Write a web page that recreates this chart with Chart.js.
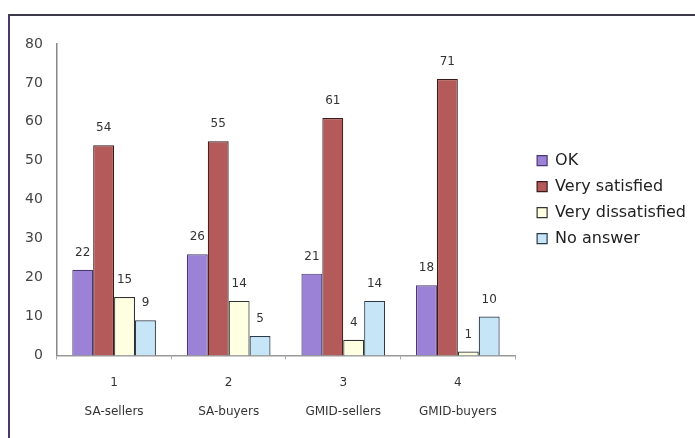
<!DOCTYPE html>
<html>
<head>
<meta charset="utf-8">
<script src="https://cdn.jsdelivr.net/npm/chart.js@4"></script>
<style>
    body { margin: 0; background: #fff; }
    #frame {
        position: absolute; left: 8px; top: 14px; width: 687px; height: 424px;
        border-top: 2px solid #3a3a48; border-left: 2px solid #4a3a6a;
        overflow: hidden;
    }
    #frame canvas { display: block; }
</style>
</head>
<body>
<div id="frame"><canvas id="grafico" width="705" height="422"></canvas></div>
<script>
// dati
var gruppi = ["1", "2", "3", "4"];
var nomiGruppi = ["SA-sellers", "SA-buyers", "GMID-sellers", "GMID-buyers"];
var serie = ["OK", "Very satisfied", "Very dissatisfied", "No answer"];
var valoriOk = [22, 26, 21, 18];
var valoriSoddisfatti = [54, 55, 61, 71];
var valoriInsoddisfatti = [15, 14, 4, 1];
var valoriNessuna = [9, 5, 14, 10];
var tickY = [0, 10, 20, 30, 40, 50, 60, 70, 80];

var colori = ["#9c82d6", "#b45a5a", "#ffffe2", "#c6e6f8"];
var bordi = ["#4a3a70", "#3a1a1a", "#333333", "#2a3a4a"];
var font = "'DejaVu Sans', sans-serif";

var etichette = [];
for (var i = 0; i < gruppi.length; i++) {
    etichette.push([gruppi[i], nomiGruppi[i]]);
}

var valori = [valoriOk, valoriSoddisfatti, valoriInsoddisfatti, valoriNessuna];
var datasets = [];
for (var s = 0; s < serie.length; s++) {
    datasets.push({
        label: serie[s],
        data: valori[s],
        backgroundColor: colori[s],
        borderColor: bordi[s],
        borderWidth: 1.2,
        barPercentage: 1,
        categoryPercentage: 0.73
    });
}

// numeri sopra le barre
var etichetteValori = {
    id: "etichetteValori",
    afterDatasetsDraw: function(chart) {
        var ctx = chart.ctx;
        ctx.save();
        ctx.font = "12px " + font;
        ctx.fillStyle = "#333";
        ctx.textAlign = "center";
        ctx.textBaseline = "bottom";
        chart.data.datasets.forEach(function(ds, i) {
            chart.getDatasetMeta(i).data.forEach(function(bar, j) {
                ctx.fillText(ds.data[j], bar.x, bar.y - 11);
            });
        });
        ctx.restore();
    }
};

// lascia un po' di spazio tra asse x e legenda
var spazioLegenda = {
    id: "spazioLegenda",
    afterLayout: function(chart) {
        var asseX = chart.scales.x;
        asseX.right -= 12;
        asseX.width -= 12;
        asseX.configure();
        chart.chartArea.right -= 12;
        chart.chartArea.width -= 12;
    }
};

var chart = new Chart(document.getElementById("grafico"), {
    type: "bar",
    data: { labels: etichette, datasets: datasets },
    options: {
        responsive: false,
        animation: false,
        layout: { padding: { top: 28, left: 6, right: 19, bottom: 3 } },
        plugins: {
            legend: {
                position: "right",
                align: "center",
                fullSize: false,
                labels: {
                    boxWidth: 10,
                    boxHeight: 10,
                    padding: 10,
                    color: "#222",
                    font: { family: font, size: 16 }
                }
            },
            tooltip: { enabled: false }
        },
        scales: {
            x: {
                grid: { display: true, drawOnChartArea: false, drawTicks: true, tickLength: 4, color: "#aaa" },
                border: { color: "#999", width: 1.5 },
                ticks: {
                    color: "#333",
                    padding: 9,
                    maxRotation: 0,
                    font: { family: font, size: 12, lineHeight: 2.4 }
                }
            },
            y: {
                min: 0,
                max: 80,
                afterBuildTicks: function(axis) {
                    axis.ticks = tickY.map(function(v) { return { value: v }; });
                },
                grid: { display: false, drawTicks: true, tickLength: 5, color: "#999" },
                border: { color: "#888", width: 1.5 },
                ticks: {
                    color: "#444",
                    padding: 9,
                    font: { family: font, size: 14 }
                }
            }
        }
    },
    plugins: [etichetteValori, spazioLegenda]
});
</script>
</body>
</html>
